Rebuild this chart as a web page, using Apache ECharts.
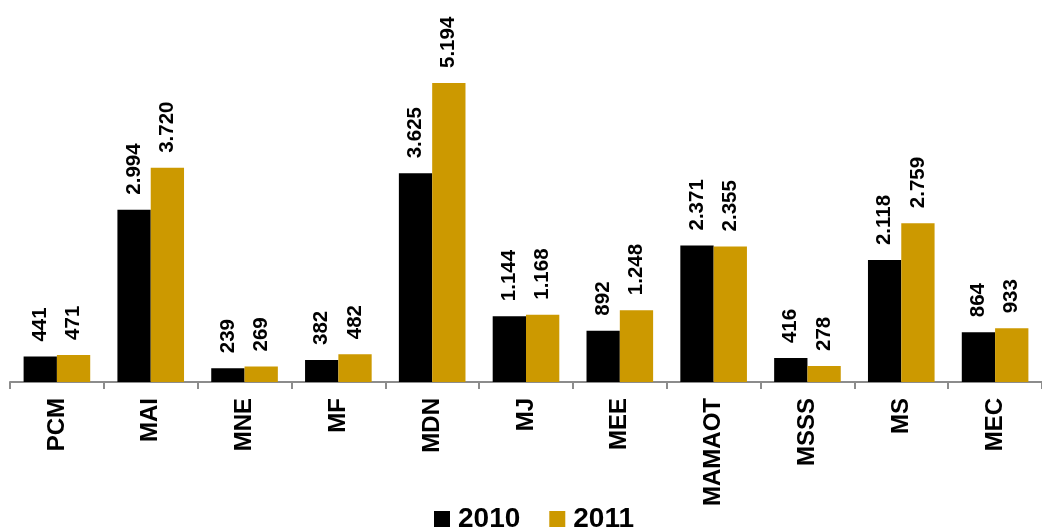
<!DOCTYPE html>
<html>
<head>
<meta charset="utf-8">
<script src="https://cdn.jsdelivr.net/npm/echarts@6/dist/echarts.min.js"></script>
<style>
  html, body { margin: 0; padding: 0; background: #fff; }
  #chart { width: 1042px; height: 530px; }
</style>
</head>
<body>
<div id="chart"></div>
<script>
// Ministries and their totals for the two years
const categories = ['PCM', 'MAI', 'MNE', 'MF', 'MDN', 'MJ', 'MEE', 'MAMAOT', 'MSSS', 'MS', 'MEC'];
const values2010 = [441, 2994, 239, 382, 3625, 1144, 892, 2371, 416, 2118, 864];
const values2011 = [471, 3720, 269, 482, 5194, 1168, 1248, 2355, 278, 2759, 933];
const seriesNames = ['2010', '2011'];

// Thousands separated with a dot
function fmt(v) {
  return String(v).replace(/\B(?=(\d{3})+(?!\d))/g, '.');
}

const FONT = 'Liberation Sans, Arial, sans-serif';

const labelStyle = {
  show: true,
  position: 'top',
  rotate: 90,
  align: 'left',
  verticalAlign: 'middle',
  distance: 15,
  fontFamily: FONT,
  fontWeight: 'bold',
  fontSize: 20.5,
  color: '#000',
  formatter: p => fmt(p.value)
};

const chart = echarts.init(document.getElementById('chart'));
chart.setOption({
  animation: false,
  grid: { left: 10, right: -6, top: 36.6, bottom: 148 },
  legend: {
    bottom: -8,
    left: 429,
    itemWidth: 16,
    itemHeight: 16,
    itemGap: 29,
    icon: 'rect',
    textStyle: { fontFamily: FONT, fontWeight: 'bold', fontSize: 28, color: '#000', padding: [0, 0, 0, 3] },
    data: seriesNames
  },
  xAxis: {
    type: 'category',
    data: categories,
    axisLine: { lineStyle: { color: '#8c8c8c', width: 2 } },
    axisTick: { show: true, length: 7, lineStyle: { color: '#8c8c8c', width: 2 } },
    axisLabel: {
      rotate: 90,
      margin: 16,
      fontFamily: FONT,
      fontWeight: 'bold',
      fontSize: 24,
      color: '#000',
      interval: 0
    }
  },
  yAxis: {
    type: 'value',
    min: 0,
    max: 6000,
    show: false,
    splitLine: { show: false }
  },
  series: [
    {
      name: seriesNames[0],
      type: 'bar',
      data: values2010,
      barGap: '0%',
      barCategoryGap: '29%',
      itemStyle: { color: '#000000' },
      label: labelStyle
    },
    {
      name: seriesNames[1],
      type: 'bar',
      data: values2011,
      itemStyle: { color: '#CC9900' },
      label: labelStyle
    }
  ]
});
</script>
</body>
</html>
